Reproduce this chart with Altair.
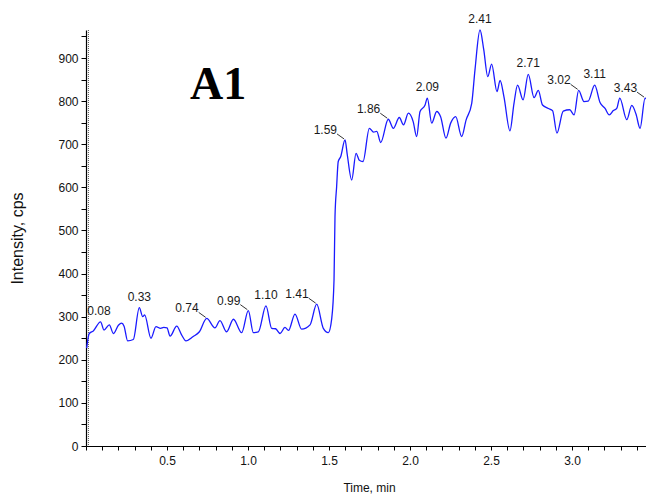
import altair as alt
import pandas as pd

# Chromatogram trace (time in min, intensity in cps)
times = [0.004, 0.020, 0.045, 0.090, 0.111, 0.144, 0.169, 0.200, 0.220, 0.235,
         0.257, 0.292, 0.329, 0.350, 0.362, 0.401, 0.432, 0.460, 0.480, 0.500,
         0.519, 0.560, 0.590, 0.617, 0.662, 0.700, 0.745, 0.796, 0.827, 0.868,
         0.910, 0.961, 1.002, 1.033, 1.064, 1.111, 1.146, 1.170, 1.198, 1.228,
         1.250, 1.290, 1.331, 1.383, 1.424, 1.465, 1.496, 1.517, 1.531, 1.537,
         1.547, 1.557, 1.572, 1.599, 1.613, 1.640, 1.667, 1.687, 1.710, 1.749,
         1.775, 1.795, 1.819, 1.866, 1.897, 1.934, 1.960, 1.990, 2.020, 2.041,
         2.062, 2.093, 2.107, 2.134, 2.165, 2.189, 2.222, 2.251, 2.282, 2.319,
         2.346, 2.381, 2.401, 2.432, 2.455, 2.480, 2.504, 2.537, 2.556, 2.580,
         2.617, 2.642, 2.664, 2.698, 2.730, 2.766, 2.792, 2.818, 2.854, 2.880,
         2.907, 2.946, 2.986, 3.013, 3.041, 3.074, 3.100, 3.140, 3.173, 3.204,
         3.230, 3.255, 3.276, 3.295, 3.338, 3.369, 3.395, 3.420, 3.451, 3.481,
         3.500]
intensity = [227, 261, 267, 288, 269, 281, 261, 280, 285, 278,
             244, 247, 321, 300, 304, 250, 277, 273, 275, 274,
             255, 278, 258, 244, 254, 265, 296, 274, 291, 265,
             294, 263, 314, 263, 265, 325, 273, 272, 261, 275,
             268, 306, 271, 281, 329, 273, 263, 296, 385, 532,
             601, 660, 671, 710, 675, 617, 679, 663, 660, 737,
             728, 730, 704, 758, 737, 762, 745, 772, 752, 718,
             776, 791, 807, 749, 776, 764, 714, 749, 764, 718,
             756, 795, 872, 965, 920, 857, 886, 822, 848, 810,
             731, 795, 837, 803, 862, 808, 825, 791, 783, 778,
             726, 777, 780, 768, 825, 799, 800, 837, 797, 783,
             768, 778, 783, 807, 757, 790, 770, 737, 807, 789,
             774]

# Peak labels placed straight above their apex
center_labels = ["0.08", "0.33", "1.10", "2.09", "2.41", "2.71", "3.11"]
center_t = [0.080, 0.329, 1.111, 2.107, 2.432, 2.730, 3.140]
center_v = [288, 321, 325, 807, 965, 862, 837]

# Peak labels with a small leader to the apex
leader_labels = ["0.74", "0.99", "1.41", "1.59", "1.86", "3.02", "3.43"]
leader_t = [0.745, 1.002, 1.424, 1.599, 1.866, 3.041, 3.451]
leader_v = [296, 314, 329, 710, 758, 825, 807]

marker_t = [0.015]

x_ticks = [round(i * 0.1, 1) for i in range(0, 36)]
y_ticks = list(range(0, 951, 50))

trace = pd.DataFrame({"t": times, "v": intensity})
cdf = pd.DataFrame({"t": center_t, "v": center_v, "label": center_labels})
ldf = pd.DataFrame({"t": leader_t, "v": leader_v, "label": leader_labels})
mdf = pd.DataFrame({"t": marker_t})

FONT = "Liberation Sans"

xscale = alt.Scale(domain=[0, 3.5], nice=False, zero=False)
yscale = alt.Scale(domain=[0, 965], nice=False)

xaxis = alt.Axis(
    title="Time, min",
    values=x_ticks,
    labelExpr="(abs(datum.value*2 - round(datum.value*2)) < 0.000001 && datum.value > 0.1 && datum.value < 3.4) ? format(datum.value, '.1f') : ''",
    tickSize=4, labelPadding=5, labelFlush=False, labelOverlap=False,
    titleX=283, titleY=41, titleAlign="center", titleBaseline="middle",
)
yaxis = alt.Axis(
    title="Intensity, cps",
    values=y_ticks,
    labelExpr="datum.value % 100 === 0 ? datum.label : ''",
    tickSize=5, labelPadding=3, labelOverlap=False, labelFlush=False,
    titleX=-69, titleY=208, titleAngle=270, titleAlign="center", titleBaseline="middle",
    titleFontSize=16,
)

X = alt.X("t:Q", scale=xscale, axis=xaxis)
Y = alt.Y("v:Q", scale=yscale, axis=yaxis)

marker = alt.Chart(mdf).mark_rule(color="#555555", strokeDash=[1, 1], strokeWidth=1).encode(x=X)

line = alt.Chart(trace).mark_line(color="#1a1aff", strokeWidth=1.3, interpolate="monotone").encode(
    x=X, y=Y
)

ctext = alt.Chart(cdf).mark_text(
    font=FONT, fontSize=12, color="#1a1a1a", align="center", baseline="bottom", dy=-4
).encode(x=X, y=Y, text="label:N")

ltext = alt.Chart(ldf).mark_text(
    font=FONT, fontSize=12, color="#1a1a1a", align="right", baseline="bottom", dx=-8, dy=-3
).encode(x=X, y=Y, text="label:N")

leader = alt.Chart(ldf).mark_rule(
    color="#333333", strokeWidth=1, xOffset=-8, yOffset=-6, x2Offset=-1, y2Offset=-1
).encode(x=X, y=Y, x2="t:Q", y2="v:Q")

panel = alt.Chart(pd.DataFrame({"name": ["A1"]})).mark_text(
    font="Liberation Serif", fontSize=46, fontWeight="bold", color="black",
    align="left", baseline="alphabetic"
).encode(x=alt.value(104), y=alt.value(69), text="name:N")

chart = alt.layer(marker, line, ctext, ltext, leader, panel).properties(
    width=567, height=416,
    autosize=alt.AutoSizeParams(type="none"),
    padding={"left": 78, "top": 22, "right": -7, "bottom": 48},
).configure_view(stroke=None).configure_axis(
    grid=False, domainColor="black", domainWidth=1.2, tickColor="black", tickWidth=1,
    labelFont=FONT, labelFontSize=12, labelColor="#111111",
    titleFont=FONT, titleFontSize=12, titleFontWeight="normal", titleColor="#111111",
)

chart.save("out.html", embed_options={"renderer": "svg", "actions": False})
